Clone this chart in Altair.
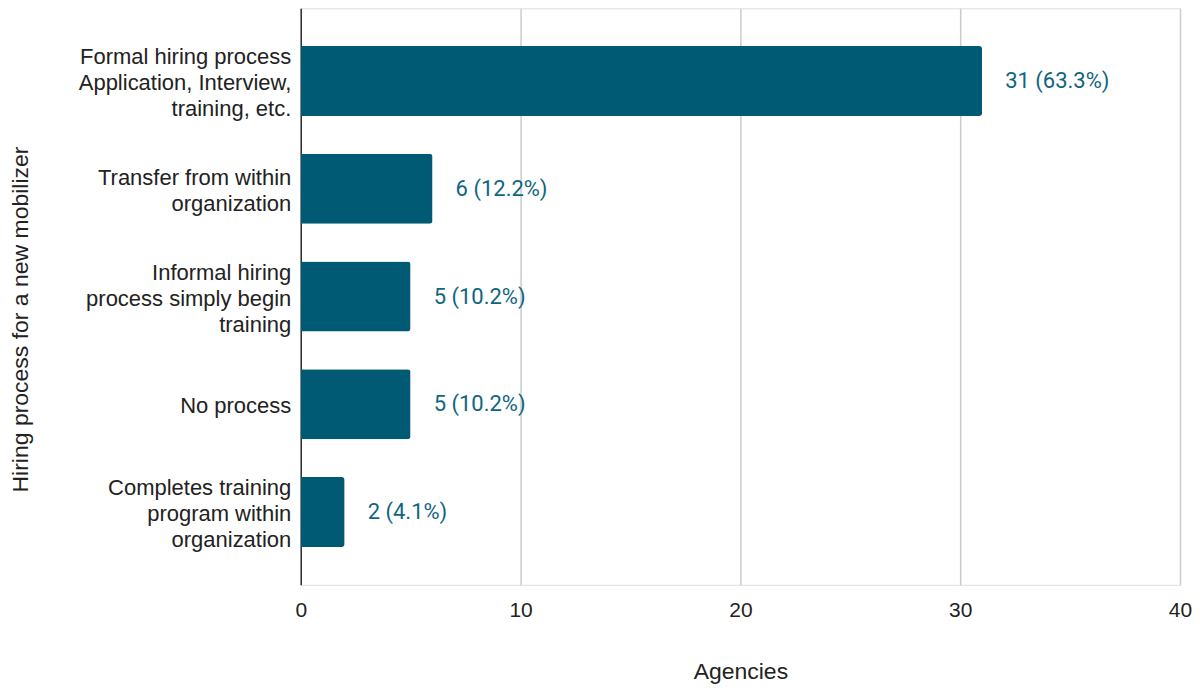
import altair as alt
import pandas as pd

categories = [
    "Formal hiring process|Application, Interview,|training, etc.",
    "Transfer from within|organization",
    "Informal hiring|process simply begin|training",
    "No process",
    "Completes training|program within|organization",
]
agencies = [31, 6, 5, 5, 2]
pct_labels = ["63.3%", "12.2%", "10.2%", "10.2%", "4.1%"]

df = pd.DataFrame({
    "cat": categories,
    "val": agencies,
    "lab": [f"{v} ({p})" for v, p in zip(agencies, pct_labels)],
})

AXFONT = "Liberation Sans"
LABFONT = "Roboto"
BAR = "#005a73"
LH = 26

y_enc = alt.Y(
    "cat:N",
    sort=categories,
    scale=alt.Scale(paddingInner=0.35, paddingOuter=0.35),
    axis=alt.Axis(
        title="Hiring process for a new mobilizer",
        labelExpr="split(datum.label, '|')",
        labelFontSize=22,
        labelLineHeight=LH,
        labelBaseline="middle",
        labelOffset={
            "condition": [
                {"test": "length(split(datum.value, '|')) == 3", "value": -LH + 2},
                {"test": "length(split(datum.value, '|')) == 2", "value": -LH / 2 + 2},
            ],
            "value": 2,
        },
        labelColor="#222222",
        labelFont=AXFONT,
        labelPadding=10,
        labelLimit=400,
        ticks=False,
        domainColor="#333333",
        domainWidth=1.5,
        titleFont=AXFONT,
        titleFontSize=23,
        titleFontWeight="normal",
        titleColor="#222222",
        titleX=-268,
        titleY=311,
    ),
)

x_enc = alt.X(
    "val:Q",
    scale=alt.Scale(domain=[0, 40]),
    axis=alt.Axis(
        title="Agencies",
        values=[0, 10, 20, 30, 40],
        grid=True,
        gridColor="#cccccc",
        gridWidth=1.5,
        domain=False,
        ticks=False,
        labelFlush=False,
        labelFontSize=21,
        labelFont=AXFONT,
        labelColor="#222222",
        labelPadding=15,
        titleFont=AXFONT,
        titleFontSize=23,
        titleFontWeight="normal",
        titleColor="#222222",
        titlePadding=40,
    ),
)

bars = alt.Chart(df).mark_bar(color=BAR, cornerRadiusTopRight=3, cornerRadiusBottomRight=3).encode(
    x=x_enc, y=y_enc
)

text = alt.Chart(df).mark_text(
    align="left", baseline="middle", dx=23, font=LABFONT, fontSize=22, color="#0f6580"
).encode(
    x=alt.X("val:Q"),
    y=alt.Y("cat:N", sort=categories),
    text="lab:N",
)

chart = (bars + text).properties(
    width=880, height=577, padding={"left": 2, "top": 0, "right": 0, "bottom": 0}
).configure_view(stroke=None).configure(background="white")

chart.save("out.html", embed_options={"renderer": "svg", "actions": False})
